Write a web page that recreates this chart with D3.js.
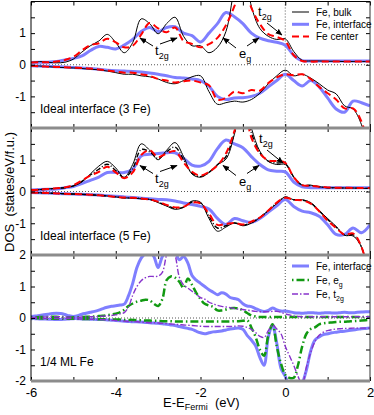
<!DOCTYPE html>
<html>
<head>
<meta charset="utf-8">
<script src="https://cdn.jsdelivr.net/npm/d3@7"></script>
<style>
  body { margin: 0; background: #fff; }
  text { font-family: "Liberation Sans", Arial, sans-serif; fill: #000; }
</style>
</head>
<body>
<script>
var w = 374;
var h = 415;

// energy grids (eV)
var grid2 = [-6,-5.8,-5.6,-5.4,-5.2,-5,-4.8,-4.6,-4.4,-4.2,-4,-3.8,-3.6,-3.4,-3.2,-3,-2.8,-2.6,-2.4,-2.2,-2,
  -1.8,-1.6,-1.4,-1.2,-1,-0.8,-0.6,-0.4,-0.2,0,0.2,0.4,0.6,0.8,1,1.2,1.4,1.6,1.8,2];
var grid1 = [-6,-5.9,-5.8,-5.7,-5.6,-5.5,-5.4,-5.3,-5.2,-5.1,-5,-4.9,-4.8,-4.7,-4.6,-4.5,-4.4,-4.3,-4.2,-4.1,
  -4,-3.9,-3.8,-3.7,-3.6,-3.5,-3.4,-3.3,-3.2,-3.1,-3,-2.9,-2.8,-2.7,-2.6,-2.5,-2.4,-2.3,-2.2,-2.1,
  -2,-1.9,-1.8,-1.7,-1.6,-1.5,-1.4,-1.3,-1.2,-1.1,-1,-0.9,-0.8,-0.7,-0.6,-0.5,-0.4,-0.3,-0.2,-0.1,
  0,0.1,0.2,0.3,0.4,0.5,0.6,0.7,0.8,0.9,1,1.1,1.2,1.3,1.4,1.5,1.6,1.7,1.8,1.9,2];

// panel 1: ideal interface (3 Fe)
var p1BulkUp = [0.07,0.1,0.08,0.06,0.08,0.18,0.4,0.6,0.75,0.96,0.7, 0.38,0.7,1.45,1.3,0.98,1.3,1.5,0.9,0.6,0.6,
  0.38,0.55,1.05,2.4,3.3,1.85,1.15,0.9,0.8,0.82, 0.42,0.14,0.12,0.12,0.11,0.11,0.1,0.1,0.1,0.1];
var p1BulkDn = [-0.03,-0.04,-0.06,-0.08,-0.09,-0.1,-0.12,-0.14,-0.16,-0.2,-0.25, -0.3,-0.3,-0.35,-0.38,-0.45,-0.56,-0.6,-0.5,-0.38,-0.35,
  -0.85,-1.25,-1.2,-1.15,-1.18,-1.1,-0.9,-0.6,-0.35,-0.17, -0.35,-0.3,-0.42,-0.6,-0.8,-0.92,-1.3,-1.4,-1.9,-3.0];
var p1IntUp = [0.07,0.08,0.08,0.1,0.15,0.2,0.28,0.45,0.58,0.55,0.5, 0.62,0.8,1.05,1.18,1.05,1.18,1.2,1.0,0.92,0.72,
  1.0,1.3,1.65,1.52,1.3,1.0,0.84,0.76,0.71,0.62, 0.3,0.13,0.12,0.12,0.12,0.12,0.12,0.12,0.12,0.12];
var p1IntDn = [-0.03,-0.04,-0.05,-0.06,-0.07,-0.09,-0.1,-0.12,-0.14,-0.17,-0.19, -0.2,-0.21,-0.23,-0.26,-0.3,-0.35,-0.4,-0.42,-0.45,-0.5,
  -0.68,-1.0,-1.1,-1.05,-1.04,-1.0,-0.9,-0.7,-0.5,-0.3, -0.5,-0.67,-0.5,-0.7,-1.05,-1.4,-1.5,-1.15,-1.2,-1.3];
var p1CenUp = [0.07,0.08,0.08,0.1,0.15,0.25,0.45,0.62,0.68,0.82,0.71, 0.55,0.6,0.95,1.32,1.15,1.03,1.18,0.75,0.66,0.55,
  0.65,0.85,1.25,1.85,2.6,1.8,1.29,0.97,0.88,0.75, 0.3,0.12,0.1,0.1,0.1,0.1,0.1,0.1,0.1,0.1];
var p1CenDn = [-0.03,-0.05,-0.06,-0.07,-0.08,-0.09,-0.1,-0.12,-0.15,-0.18,-0.22, -0.25,-0.25,-0.3,-0.35,-0.45,-0.5,-0.56,-0.52,-0.5,-0.56,
  -0.65,-1.1,-1.05,-0.85,-0.9,-0.8,-0.82,-0.58,-0.4,-0.3, -0.33,-0.3,-0.45,-0.7,-0.9,-1.1,-1.38,-1.38,-1.8,-2.8];

// panel 2: ideal interface (5 Fe)
var p2BulkUp = [0.05,0.06,0.08,0.1,0.12,0.17,0.3,0.55,0.8,0.95,0.74, 0.45,0.85,1.5,1.3,1.0,1.3,1.54,1.1,0.55,0.45,
  0.6,0.85,1.02,1.8,3.0,2.0,1.27,0.95,0.85,0.85, 0.45,0.2,0.2,0.15,0.12,0.12,0.11,0.11,0.1,0.1];
var p2BulkDn = [-0.03,-0.04,-0.05,-0.06,-0.07,-0.08,-0.09,-0.1,-0.12,-0.14,-0.17, -0.2,-0.21,-0.23,-0.25,-0.35,-0.46,-0.56,-0.5,-0.3,-0.34,
  -0.85,-1.25,-1.12,-0.99,-1.08,-1.0,-0.82,-0.6,-0.38,-0.17, -0.26,-0.26,-0.35,-0.6,-0.85,-1.1,-1.38,-1.4,-1.75,-2.8];
var p2IntUp = [0.05,0.06,0.07,0.08,0.12,0.16,0.25,0.35,0.45,0.6,0.6, 0.6,0.7,1.12,1.17,1.2,1.22,1.22,1.05,0.83,0.8,
  0.95,1.35,1.62,1.5,1.38,1.1,0.85,0.68,0.64,0.62, 0.3,0.15,0.12,0.12,0.12,0.12,0.12,0.12,0.12,0.12];
var p2IntDn = [-0.03,-0.04,-0.05,-0.06,-0.07,-0.08,-0.09,-0.1,-0.11,-0.13,-0.15, -0.17,-0.19,-0.21,-0.23,-0.25,-0.26,-0.3,-0.36,-0.41,-0.47,
  -0.55,-0.85,-1.04,-0.85,-0.92,-0.97,-0.85,-0.65,-0.45,-0.25, -0.47,-0.62,-0.67,-0.78,-1.05,-1.35,-1.35,-1.15,-1.3,-1.05];
var p2CenUp = [0.05,0.06,0.08,0.1,0.13,0.2,0.35,0.5,0.62,0.78,0.6, 0.42,0.6,1.15,1.3,1.08,1.2,1.27,0.92,0.62,0.5,
  0.62,0.82,1.2,1.9,2.8,1.7,1.2,0.98,0.96,0.9, 0.45,0.2,0.18,0.15,0.13,0.12,0.12,0.11,0.11,0.11];
var p2CenDn = [-0.03,-0.04,-0.05,-0.06,-0.07,-0.08,-0.09,-0.1,-0.12,-0.14,-0.17, -0.19,-0.2,-0.22,-0.25,-0.32,-0.42,-0.5,-0.48,-0.35,-0.38,
  -0.7,-1.05,-1.02,-0.99,-1.04,-0.95,-0.82,-0.6,-0.35,-0.2, -0.26,-0.28,-0.38,-0.62,-0.92,-1.15,-1.36,-1.32,-1.75,-2.8];
var p2DotUp = [0.05,0.06,0.08,0.1,0.12,0.18,0.32,0.52,0.7,0.86,0.66, 0.43,0.72,1.32,1.25,1.04,1.25,1.4,1.0,0.58,0.47,
  0.6,0.84,1.1,1.85,2.9,1.85,1.22,0.96,0.9,0.88, 0.46,0.2,0.19,0.15,0.12,0.12,0.11,0.11,0.1,0.1];
var p2DotDn = [-0.03,-0.04,-0.05,-0.06,-0.07,-0.08,-0.09,-0.1,-0.12,-0.14,-0.17, -0.2,-0.2,-0.22,-0.25,-0.33,-0.44,-0.53,-0.49,-0.33,-0.36,
  -0.78,-1.15,-1.08,-0.99,-1.06,-0.98,-0.82,-0.6,-0.36,-0.18, -0.26,-0.27,-0.36,-0.61,-0.88,-1.12,-1.37,-1.36,-1.75,-2.8];

// panel 3: 1/4 ML Fe
var p3IntUp = [0.05,0.06,0.08,0.1,0.12,0.14,0.15,0.14,0.11,0.07, 0.05,0.07,0.12,0.15,0.18,0.21,0.25,0.3,0.34,0.37,
  0.39,0.41,0.44,0.7,1.1,1.6,1.9,2.05,2.1,1.95, 1.6,1.95,2.1,2.15,2.1,1.85,1.95,1.75,1.35,1.2,
  1.1,1.0,0.9,0.82,0.74,0.8,0.76,0.65,0.62,0.58, 0.45,0.38,0.36,0.3,0.24,0.21,0.24,0.32,0.26,0.22,
  0.22,0.2,0.17,0.16,0.15,0.16,0.17,0.16,0.15,0.16, 0.17,0.16,0.16,0.17,0.18,0.17,0.17,0.18,0.19,0.2,0.2];
var p3IntDn = [-0.02,-0.02,-0.03,-0.03,-0.04,-0.04,-0.05,-0.05,-0.04,-0.03, -0.02,-0.02,-0.03,-0.03,-0.04,-0.04,-0.05,-0.05,-0.06,-0.07,
  -0.08,-0.09,-0.1,-0.11,-0.12,-0.12,-0.13,-0.14,-0.15,-0.16, -0.17,-0.18,-0.2,-0.22,-0.24,-0.27,-0.3,-0.33,-0.36,-0.42,
  -0.47,-0.5,-0.47,-0.44,-0.43,-0.41,-0.38,-0.35,-0.33,-0.32, -0.36,-0.55,-0.7,-0.88,-1.25,-1.5,-0.6,-0.25,-0.8,-1.6,
  -1.85,-2.2,-2.3,-2.4,-2.1,-1.65,-1.05,-0.7,-0.6,-0.53, -0.5,-0.47,-0.45,-0.43,-0.42,-0.4,-0.38,-0.36,-0.34,-0.33,-0.32];
var p3EgUp = [0.02,0.02,0.03,0.03,0.03,0.04,0.04,0.03,0.03,0.02, 0.02,0.02,0.03,0.04,0.04,0.05,0.06,0.07,0.09,0.11,
  0.14,0.18,0.26,0.38,0.46,0.52,0.55,0.58,0.56,0.45, 0.38,0.6,1.2,1.32,1.28,1.15,0.95,1.25,1.05,0.8,
  0.6,0.45,0.4,0.35,0.24,0.24,0.27,0.31,0.32,0.3, 0.24,0.16,0.08,0.05,0.03,0.03,0.03,0.03,0.03,0.03,
  0.03,0.03,0.03,0.03,0.03,0.03,0.03,0.03,0.03,0.03, 0.03,0.03,0.03,0.03,0.03,0.03,0.03,0.03,0.03,0.03,0.03];
var p3EgDn = [-0.01,-0.01,-0.01,-0.02,-0.02,-0.02,-0.02,-0.02,-0.02,-0.02, -0.02,-0.02,-0.03,-0.03,-0.03,-0.03,-0.04,-0.04,-0.04,-0.05,
  -0.05,-0.05,-0.06,-0.06,-0.06,-0.07,-0.07,-0.08,-0.08,-0.09, -0.09,-0.1,-0.1,-0.1,-0.11,-0.11,-0.11,-0.11,-0.11,-0.11,
  -0.11,-0.11,-0.11,-0.11,-0.11,-0.11,-0.11,-0.11,-0.1,-0.1, -0.09,-0.07,-0.3,-0.6,-1.0,-1.2,-0.55,-0.2,-0.9,-1.45,
  -1.8,-1.9,-1.9,-1.5,-0.9,-0.5,-0.35,-0.3,-0.2,-0.17, -0.15,-0.14,-0.13,-0.12,-0.12,-0.11,-0.1,-0.09,-0.08,-0.07,-0.06];
var p3T2gUp = [0.02,0.02,0.03,0.03,0.04,0.04,0.04,0.04,0.03,0.03, 0.02,0.02,0.03,0.03,0.04,0.04,0.05,0.06,0.07,0.08,
  0.1,0.13,0.17,0.35,0.72,1.0,1.18,1.28,1.32,1.32, 1.33,1.45,2.0,2.3,2.0,1.3,1.05,0.95,0.85,0.75,
  0.65,0.6,0.5,0.45,0.4,0.37,0.35,0.33,0.3,0.28, 0.27,0.25,0.23,0.21,0.2,0.2,0.2,0.21,0.21,0.18,
  0.13,0.1,0.06,0.05,0.04,0.04,0.04,0.04,0.04,0.04, 0.04,0.04,0.04,0.04,0.04,0.04,0.04,0.04,0.04,0.04,0.04];
var p3T2gDn = [-0.01,-0.01,-0.02,-0.02,-0.02,-0.02,-0.02,-0.02,-0.02,-0.02, -0.02,-0.03,-0.03,-0.03,-0.04,-0.04,-0.05,-0.05,-0.06,-0.07,
  -0.08,-0.09,-0.1,-0.11,-0.11,-0.12,-0.13,-0.14,-0.15,-0.15, -0.16,-0.17,-0.18,-0.19,-0.2,-0.21,-0.22,-0.23,-0.24,-0.25,
  -0.26,-0.27,-0.27,-0.27,-0.27,-0.27,-0.27,-0.27,-0.26,-0.25, -0.26,-0.3,-0.36,-0.46,-0.58,-0.62,-0.4,-0.22,-0.35,-0.5,
  -0.9,-1.2,-1.5,-1.85,-2.1,-1.55,-1.1,-0.75,-0.55,-0.45, -0.4,-0.37,-0.35,-0.34,-0.33,-0.33,-0.32,-0.32,-0.32,-0.32,-0.32];

var xTicks = [-6,-5,-4,-3,-2,-1,0,1,2];
var yMinor = [-2,-1.5,-1,-0.5,0,0.5,1,1.5,2];

var styles = {
    bulk: {color: "#000", width: 1, dash: null},
    iface: {color: "#7f7fff", width: 3, dash: null},
    center: {color: "#ff0000", width: 2, dash: "7,4"},
    dot: {color: "#000", width: 1.4, dash: "5,2,1,2"},
    eg: {color: "#119911", width: 2.5, dash: "1.5,3,8,3"},
    t2g: {color: "#8833cc", width: 1.4, dash: "6,2,1.5,2"}
};

var panels = [
    {top: 1.5, bottom: 128, labels: [-1,0,1], text: "Ideal interface (3 Fe)", ty: 113,
     series: [[grid2,p1IntUp,"iface"],[grid2,p1IntDn,"iface"],[grid2,p1BulkUp,"bulk"],[grid2,p1BulkDn,"bulk"],
              [grid2,p1CenUp,"center"],[grid2,p1CenDn,"center"]]},
    {top: 128, bottom: 255, labels: [-1,0,1], text: "Ideal interface (5 Fe)", ty: 240,
     series: [[grid2,p2IntUp,"iface"],[grid2,p2IntDn,"iface"],[grid2,p2BulkUp,"bulk"],[grid2,p2BulkDn,"bulk"],
              [grid2,p2DotUp,"dot"],[grid2,p2DotDn,"dot"],[grid2,p2CenUp,"center"],[grid2,p2CenDn,"center"]]},
    {top: 255, bottom: 381, labels: [-2,-1,0,1,2], text: "1/4 ML Fe", ty: 366,
     series: [[grid1,p3IntUp,"iface"],[grid1,p3IntDn,"iface"],[grid1,p3EgUp,"eg"],[grid1,p3EgDn,"eg"],
              [grid1,p3T2gUp,"t2g"],[grid1,p3T2gDn,"t2g"]]}
];

var xScale = d3.scaleLinear().domain([-6, 2]).range([31, 370]);

var svg = d3.select("body").append("svg").attr("width", w).attr("height", h);

var defs = svg.append("defs");
defs.append("marker")
    .attr("id", "arr")
    .attr("viewBox", "0 0 10 10")
    .attr("refX", 9).attr("refY", 5)
    .attr("markerWidth", 7).attr("markerHeight", 7)
    .attr("orient", "auto")
    .append("path").attr("d", "M0,1 L10,5 L0,9 z").attr("fill", "#000");

panels.forEach((p, k) => {
    var yScale = d3.scaleLinear().domain([-2, 2]).range([p.bottom, p.top]);

    defs.append("clipPath").attr("id", "clip" + k)
        .append("rect")
        .attr("x", 31).attr("y", p.top)
        .attr("width", 339).attr("height", p.bottom - p.top);

    var g = svg.append("g");

    //dotted zero lines
    g.append("line")
        .attr("x1", 31).attr("x2", 370)
        .attr("y1", yScale(0)).attr("y2", yScale(0))
        .attr("stroke", "#555").attr("stroke-width", 1).attr("stroke-dasharray", "1,2");
    g.append("line")
        .attr("x1", xScale(0)).attr("x2", xScale(0))
        .attr("y1", p.top).attr("y2", p.bottom)
        .attr("stroke", "#555").attr("stroke-width", 1).attr("stroke-dasharray", "1,2");

    //curves
    var curves = g.append("g").attr("clip-path", "url(#clip" + k + ")");
    p.series.forEach((s) => {
        var st = styles[s[2]];
        var line = d3.line()
            .x((d) => xScale(d[0]))
            .y((d) => yScale(d[1]))
            .curve(d3.curveCatmullRom.alpha(0.5));
        curves.append("path")
            .attr("d", line(d3.zip(s[0], s[1])))
            .attr("fill", "none")
            .attr("stroke", st.color)
            .attr("stroke-width", st.width)
            .attr("stroke-dasharray", st.dash)
            .attr("stroke-linejoin", "round");
    });

    //axes with inward ticks
    g.append("g").attr("transform", "translate(31,0)")
        .call(d3.axisLeft(yScale).tickValues(yMinor).tickSize(-4).tickPadding(5)
            .tickFormat((d) => p.labels.indexOf(d) >= 0 ? String(d) : ""))
        .call((a) => a.select(".domain").remove())
        .call((a) => a.selectAll("text").attr("font-size", 12).attr("font-family", "Liberation Sans, Arial, sans-serif"));
    g.append("g").attr("transform", "translate(370,0)")
        .call(d3.axisRight(yScale).tickValues(yMinor).tickSize(-4).tickFormat(""))
        .call((a) => a.select(".domain").remove());
    g.append("g").attr("transform", "translate(0," + p.top + ")")
        .call(d3.axisTop(xScale).tickValues(xTicks).tickSize(-4).tickFormat(""))
        .call((a) => a.select(".domain").remove());
    var bottomAxis = d3.axisBottom(xScale).tickValues(xTicks).tickSize(-4).tickPadding(7)
        .tickFormat((d) => (k == 2 && d % 2 == 0) ? String(d) : "");
    g.append("g").attr("transform", "translate(0," + p.bottom + ")")
        .call(bottomAxis)
        .call((a) => a.select(".domain").remove())
        .call((a) => a.selectAll("text").attr("font-size", 13).attr("font-family", "Liberation Sans, Arial, sans-serif"));

    g.append("text")
        .attr("x", 40).attr("y", p.ty)
        .attr("font-size", 12)
        .text(p.text);
});

//frame
svg.append("line").attr("x1", 31).attr("x2", 31).attr("y1", 1.5).attr("y2", 381).attr("stroke", "#000");
svg.append("line").attr("x1", 370).attr("x2", 370).attr("y1", 1.5).attr("y2", 381).attr("stroke", "#333");
svg.append("line").attr("x1", 31).attr("x2", 370).attr("y1", 1.5).attr("y2", 1.5).attr("stroke", "#000");
[128, 255, 381].forEach((yy) => {
    svg.append("rect").attr("x", 31).attr("y", yy - 1.5).attr("width", 339).attr("height", 3).attr("fill", "#8c8c8c");
});

//legends
function legend(items, x0, y0, dy) {
    items.forEach((it, i) => {
        var st = styles[it.key];
        var yy = y0 + i * dy;
        svg.append("line")
            .attr("x1", x0).attr("x2", x0 + 17)
            .attr("y1", yy).attr("y2", yy)
            .attr("stroke", st.color).attr("stroke-width", st.width)
            .attr("stroke-dasharray", st.dash);
        var t = svg.append("text").attr("x", x0 + 24).attr("y", yy + 3.5).attr("font-size", 10);
        t.append("tspan").text(it.label);
        if (it.sub) {
            t.append("tspan").attr("dy", 3).attr("font-size", 7).text(it.sub);
        }
    });
}
legend([{key: "bulk", label: "Fe, bulk"}, {key: "iface", label: "Fe, interface"}, {key: "center", label: "Fe center"}], 292, 12, 12.3);
legend([{key: "iface", label: "Fe, interface"}, {key: "eg", label: "Fe, e", sub: "g"}, {key: "t2g", label: "Fe, t", sub: "2g"}], 292, 266, 14);

//peak annotations
function label(x, y, main, sub) {
    var t = svg.append("text").attr("x", x).attr("y", y).attr("font-size", 13);
    t.append("tspan").text(main);
    t.append("tspan").attr("dy", 4).attr("font-size", 9).text(sub);
}
function arrow(x1, y1, x2, y2) {
    svg.append("line")
        .attr("x1", x1).attr("y1", y1).attr("x2", x2).attr("y2", y2)
        .attr("stroke", "#000").attr("stroke-width", 1)
        .attr("marker-end", "url(#arr)");
}
[0, 127.5].forEach((off) => {
    label(155, 55 + off, "t", "2g");
    arrow(153, 46 + off, 140, 38 + off);
    arrow(160, 44 + off, 177, 38 + off);
    label(239, 58 + off, "e", "g");
    arrow(236, 48 + off, 223, 38 + off);
    arrow(247, 46 + off, 259, 38 + off);
});
label(258, 16, "t", "2g");
arrow(267, 23, 282, 35);
label(259, 143, "t", "2g");
arrow(267, 150, 283, 163);

//axis titles
svg.append("text")
    .attr("transform", "translate(14,192) rotate(-90)")
    .attr("text-anchor", "middle")
    .attr("font-size", 13)
    .style("white-space", "pre")
    .text("DOS  (states/eV/f.u.)");

var xl = svg.append("text").attr("x", 163).attr("y", 407).attr("font-size", 13).style("white-space", "pre");
xl.append("tspan").text("E-E");
xl.append("tspan").attr("dy", 3).attr("font-size", 9).text("Fermi");
xl.append("tspan").attr("dy", -3).text("  (eV)");
</script>
</body>
</html>
